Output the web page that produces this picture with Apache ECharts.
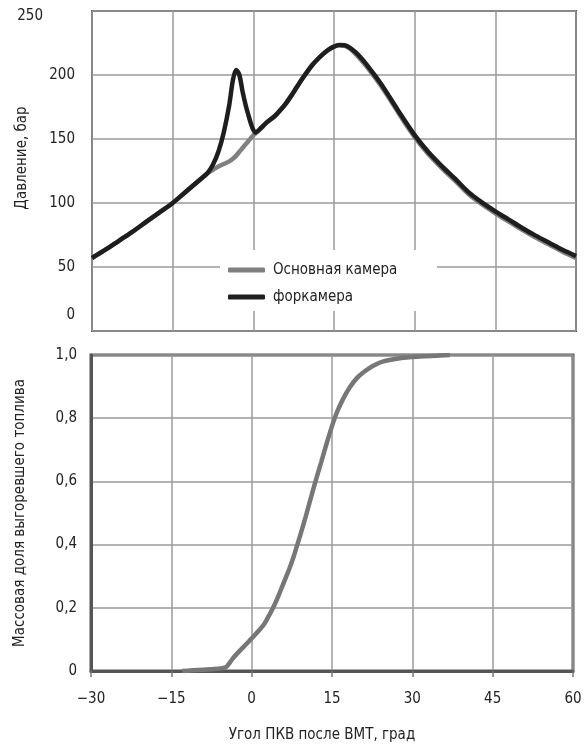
<!DOCTYPE html>
<html>
<head>
<meta charset="utf-8">
<script src="https://cdn.jsdelivr.net/npm/echarts@6/dist/echarts.min.js"></script>
<style>
html,body{margin:0;padding:0;background:#fff;}
#c{width:586px;height:745px;}
</style>
</head>
<body>
<div id="c"></div>
<script>
// ---- data ----
const angleTop = [-30,-27.5,-25,-22.5,-20,-17.5,-15,-12.5,-10,-8.5,-7.5,-6.5,-5.5,-4.5,-3.8,-3.2,-2.6,-2,-1.4,-0.8,-0.2,0.4,1.5,2.5,4,5,6,7,8,9,10,11,12,13,14,15,16,17,18,19,20,21,22,23.5,25,27.5,30,32.5,35,37.5,40,42.5,45,47.5,50,52.5,55,57.5,60];
const pressureMain = [57,63.5,70.5,77.5,85,92.5,100,109,118,123.5,126,128.5,130.5,132.5,134.5,137,140,143,146,149,152,154.5,158.5,163,168,172.5,177.5,183.5,190,196.5,202.5,208,212.5,216.5,219.8,222.2,223.2,222.8,220.5,216.5,212,207,201.5,193,183.5,167,151.5,138.5,127.5,117.5,107,99,92,85.5,79,73,67.5,62,57];
const pressurePre = [57,63.5,70.5,77.5,85,92.5,100,109,118,123.5,130,140,155,176,196,204,200,187,176,167,159,155,159,163,168,172.5,177.5,183.5,190,196.5,202.5,208,212.5,216.5,219.8,222.2,223.4,223.2,221.2,217.8,213.5,208.5,203,194.5,185,168.5,153,140,129,119,108.5,100.5,93.5,87,80.5,74.5,69,63.5,58.5];
const angleBurn = [-13,-11,-9,-7,-5.5,-4.7,-3.5,-2,-0.9,0.5,2.2,3,4,5,5.9,7,7.8,8.4,9,10,11,12,13,14,15,16,17.1,18.3,19.6,21,22.7,24.6,27.7,31.4,37];
const burnFraction = [0,0.002,0.004,0.006,0.009,0.013,0.04,0.068,0.087,0.112,0.145,0.168,0.2,0.238,0.276,0.322,0.36,0.393,0.426,0.483,0.545,0.605,0.662,0.72,0.775,0.822,0.862,0.897,0.926,0.947,0.966,0.98,0.99,0.995,1.0];
const seriesNames = ['Основная камера','форкамера'];
const xTickStep = 15;

const FONT = "'Liberation Sans Narrow','DejaVu Sans Condensed','Arial Narrow',sans-serif";
const FS = 15;
const zip = (xs, ys) => xs.map((x, i) => [x, ys[i]]);

const chart = echarts.init(document.getElementById('c'), null, {renderer: 'canvas'});
const gridLine = {lineStyle: {color: '#9a9a9a', width: 1.5}};
const labelStyle = {fontFamily: FONT, fontSize: FS, color: '#222'};

chart.setOption({
  backgroundColor: '#fff',
  animation: false,
  textStyle: {fontFamily: FONT, color: '#222'},
  grid: [
    {left: 92, top: 11, width: 484, height: 320, show: true, borderColor: '#555', borderWidth: 2, backgroundColor: 'transparent', outerBoundsMode: 'none', containLabel: false},
    {left: 91, top: 355, width: 482, height: 316, show: true, borderColor: '#555', borderWidth: 3, backgroundColor: 'transparent', outerBoundsMode: 'none', containLabel: false}
  ],
  xAxis: [
    {gridIndex: 0, type: 'value', min: -30, max: 60, interval: xTickStep,
     axisLine: {show: false}, axisTick: {show: false}, axisLabel: {show: false}, splitLine: gridLine},
    {gridIndex: 1, type: 'value', min: -30, max: 60, interval: xTickStep,
     axisLine: {show: true, onZero: false, lineStyle: {color: '#555', width: 3}},
     axisTick: {show: true, length: 6, lineStyle: {color: '#777', width: 1.5}},
     axisLabel: Object.assign({margin: 21, formatter: v => (v < 0 ? '\u2212' + Math.abs(v) : String(v))}, labelStyle),
     splitLine: gridLine,
     name: 'Угол ПКВ после ВМТ, град', nameLocation: 'middle', nameGap: 57, nameMoveOverlap: false,
     nameTextStyle: {fontFamily: FONT, fontSize: FS, color: '#222', padding: [0, 20, 0, 0]}}
  ],
  yAxis: [
    {gridIndex: 0, type: 'value', min: 0, max: 250, interval: 50,
     axisLine: {show: false, onZero: false}, axisTick: {show: false},
     axisLabel: Object.assign({margin: 17,
       formatter: v => v === 250 ? '{t|250}' : (v === 0 ? '{b|0}' : String(v)),
       rich: {t: {fontFamily: FONT, fontSize: FS, color: '#222', padding: [10, 32, 0, 0]},
              b: {fontFamily: FONT, fontSize: FS, color: '#222', padding: [0, 0, 32, 0]}}}, labelStyle),
     splitLine: gridLine,
     name: 'Давление, бар', nameLocation: 'middle', nameGap: 62, nameRotate: 90, nameMoveOverlap: false,
     nameTextStyle: {fontFamily: FONT, fontSize: FS, color: '#222', padding: [0, 0, 0, 26]}},
    {gridIndex: 1, type: 'value', min: 0, max: 1, interval: 0.2,
     axisLine: {show: true, onZero: false, lineStyle: {color: '#555', width: 3}}, axisTick: {show: false},
     axisLabel: Object.assign({margin: 14, formatter: v => v === 0 ? '0' : v.toFixed(1).replace('.', ',')}, labelStyle),
     splitLine: gridLine,
     name: 'Массовая доля выгоревшего топлива', nameLocation: 'middle', nameGap: 63, nameRotate: 90, nameMoveOverlap: false,
     nameTextStyle: {fontFamily: FONT, fontSize: FS, color: '#222'}}
  ],
  graphic: [
    {type: 'rect', left: 220, top: 250, shape: {width: 217, height: 61}, style: {fill: '#fff'}, z: 3}
  ],
  legend: {
    orient: 'vertical', left: 228, top: 261, padding: 0, itemGap: 9,
    itemWidth: 37, itemHeight: 5, icon: 'roundRect', z: 10,
    textStyle: {fontFamily: FONT, fontSize: FS, color: '#222', lineHeight: 18, padding: [0, 0, 0, 3]},
    data: seriesNames
  },
  series: [
    {name: seriesNames[0], type: 'line', xAxisIndex: 0, yAxisIndex: 0, data: zip(angleTop, pressureMain),
     showSymbol: false, smooth: 0.3, lineStyle: {color: '#808080', width: 4.5}, itemStyle: {color: '#808080'}, z: 3},
    {name: seriesNames[1], type: 'line', xAxisIndex: 0, yAxisIndex: 0, data: zip(angleTop, pressurePre),
     showSymbol: false, smooth: 0.3, lineStyle: {color: '#1e1e1e', width: 4.5}, itemStyle: {color: '#1e1e1e'}, z: 4},
    {name: 'burn', type: 'line', xAxisIndex: 1, yAxisIndex: 1, data: zip(angleBurn, burnFraction),
     showSymbol: false, smooth: 0.3, lineStyle: {color: '#777', width: 4.5}, itemStyle: {color: '#777'}, z: 3}
  ]
});
</script>
</body>
</html>
